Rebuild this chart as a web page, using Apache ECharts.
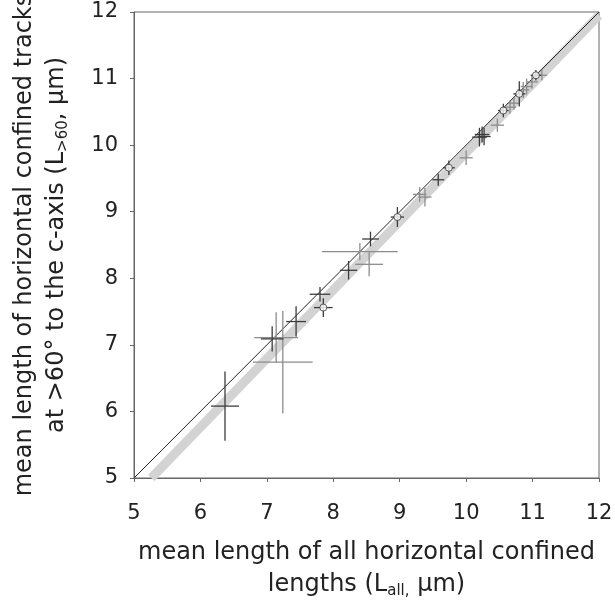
<!DOCTYPE html>
<html>
<head>
<meta charset="utf-8">
<script src="https://cdn.jsdelivr.net/npm/echarts@6/dist/echarts.min.js"></script>
<style>
  html, body { margin: 0; padding: 0; background: #fff; }
  #chart { width: 615px; height: 605px; }
</style>
</head>
<body>
<div id="chart"></div>
<script>
// axis range
const axisMin = 5, axisMax = 12, axisStep = 1

// samples drawn with dark error crosses
const darkX = [6.37, 7.08, 7.44, 7.80, 8.23, 8.56, 9.58, 10.20, 10.24, 10.27]
const darkY = [6.08, 7.09, 7.35, 7.76, 8.12, 8.59, 9.48, 10.12, 10.16, 10.13]
const darkXErr = [0.21, 0.17, 0.15, 0.155, 0.13, 0.125, 0.09, 0.11, 0.11, 0.10]
const darkYErr = [0.52, 0.19, 0.23, 0.11, 0.14, 0.11, 0.09, 0.14, 0.12, 0.13]

// samples drawn with grey error crosses
const greyX = [7.24, 7.14, 8.40, 8.54, 9.30, 9.38, 10.00, 10.47, 10.66, 10.72, 10.86, 10.91, 10.99, 11.14]
const greyY = [6.74, 7.11, 8.40, 8.21, 9.26, 9.22, 9.81, 10.30, 10.57, 10.63, 10.83, 10.88, 10.95, 11.05]
const greyXErr = [0.45, 0.33, 0.57, 0.21, 0.10, 0.10, 0.10, 0.10, 0.09, 0.09, 0.09, 0.09, 0.09, 0.08]
const greyYErr = [0.77, 0.38, 0.13, 0.18, 0.11, 0.14, 0.11, 0.10, 0.10, 0.10, 0.12, 0.12, 0.10, 0.08]

// samples marked with an open circle
const openX = [7.85, 8.965, 9.74, 10.56, 10.80, 11.05]
const openY = [7.56, 8.92, 9.66, 10.52, 10.77, 11.05]
const openXErr = [0.14, 0.10, 0.09, 0.08, 0.09, 0.08]
const openYErr = [0.14, 0.15, 0.11, 0.10, 0.19, 0.08]

// 1:1 line and the grey fitted band
const oneToOneX = [5, 12]
const oneToOneY = [5, 12]
const fitX = [5.26, 12]
const fitY = [5, 11.95]

const font = 'DejaVu Sans, Arial, sans-serif'

function rows(xs, ys, xe, ye) {
  return xs.map((x, i) => [x, ys[i], xe[i], ye[i]])
}

function crossSeries(data, color) {
  return {
    type: 'custom',
    data: data,
    z: 3,
    renderItem: (params, api) => {
      const x = api.value(0), y = api.value(1), xe = api.value(2), ye = api.value(3)
      const l = api.coord([x - xe, y]), r = api.coord([x + xe, y])
      const t = api.coord([x, y + ye]), b = api.coord([x, y - ye])
      const st = { stroke: color, lineWidth: 1.3 }
      return {
        type: 'group',
        children: [
          { type: 'line', shape: { x1: l[0], y1: l[1], x2: r[0], y2: r[1] }, style: st },
          { type: 'line', shape: { x1: t[0], y1: t[1], x2: b[0], y2: b[1] }, style: st }
        ]
      }
    }
  }
}

const pair = (a, b) => a.map((v, i) => [v, b[i]])

const titleRich = {
  t: { fontSize: 24, fontFamily: font, color: '#222', lineHeight: 32 },
  s: { fontSize: 15, fontFamily: font, color: '#222', lineHeight: 32, padding: [13, 0, 0, 0] }
}

const chart = echarts.init(document.getElementById('chart'))
chart.setOption({
  animation: false,
  backgroundColor: '#fff',
  grid: {
    left: 134, top: 12, right: 16, bottom: 127,
    outerBoundsMode: 'none',
    show: true, borderColor: '#666', borderWidth: 1
  },
  xAxis: {
    type: 'value', min: axisMin, max: axisMax, interval: axisStep,
    splitLine: { show: false },
    axisLine: { lineStyle: { color: '#666' } },
    axisTick: { length: 4, lineStyle: { color: '#666' } },
    axisLabel: { fontSize: 21, color: '#222', fontFamily: font, margin: 25 },
    name: '{t|mean length of all horizontal confined}\n{t|lengths (L}{s|all,}{t| μm)}',
    nameLocation: 'middle',
    nameGap: 59,
    nameTextStyle: { fontFamily: font, color: '#222', align: 'center', rich: titleRich }
  },
  yAxis: {
    type: 'value', min: axisMin, max: axisMax, interval: axisStep,
    splitLine: { show: false },
    axisLine: { lineStyle: { color: '#666' } },
    axisTick: { length: 4, lineStyle: { color: '#666' } },
    axisLabel: { fontSize: 21, color: '#222', fontFamily: font, margin: 16 },
    name: '{t|mean length of horizontal confined tracks}\n{t|at >60° to the c-axis (L}{s|>60}{t|, μm)}',
    nameLocation: 'middle',
    nameRotate: 90,
    nameGap: 61,
    nameTextStyle: { fontFamily: font, color: '#222', align: 'center', rich: titleRich }
  },
  series: [
    {
      type: 'line', data: pair(fitX, fitY), symbol: 'none', z: 1,
      lineStyle: { color: '#d3d3d3', width: 9 }
    },
    {
      type: 'line', data: pair(oneToOneX, oneToOneY), symbol: 'none', z: 2,
      lineStyle: { color: '#222', width: 1 }
    },
    crossSeries(rows(greyX, greyY, greyXErr, greyYErr), '#8c8c8c'),
    crossSeries(rows(darkX, darkY, darkXErr, darkYErr), '#3c3c3c'),
    crossSeries(rows(openX, openY, openXErr, openYErr), '#3c3c3c'),
    {
      type: 'scatter', data: pair(openX, openY), symbol: 'circle', symbolSize: 7, z: 4,
      itemStyle: { color: '#fff', borderColor: '#333', borderWidth: 1 }
    }
  ]
})
window.addEventListener('resize', () => chart.resize())
</script>
</body>
</html>
